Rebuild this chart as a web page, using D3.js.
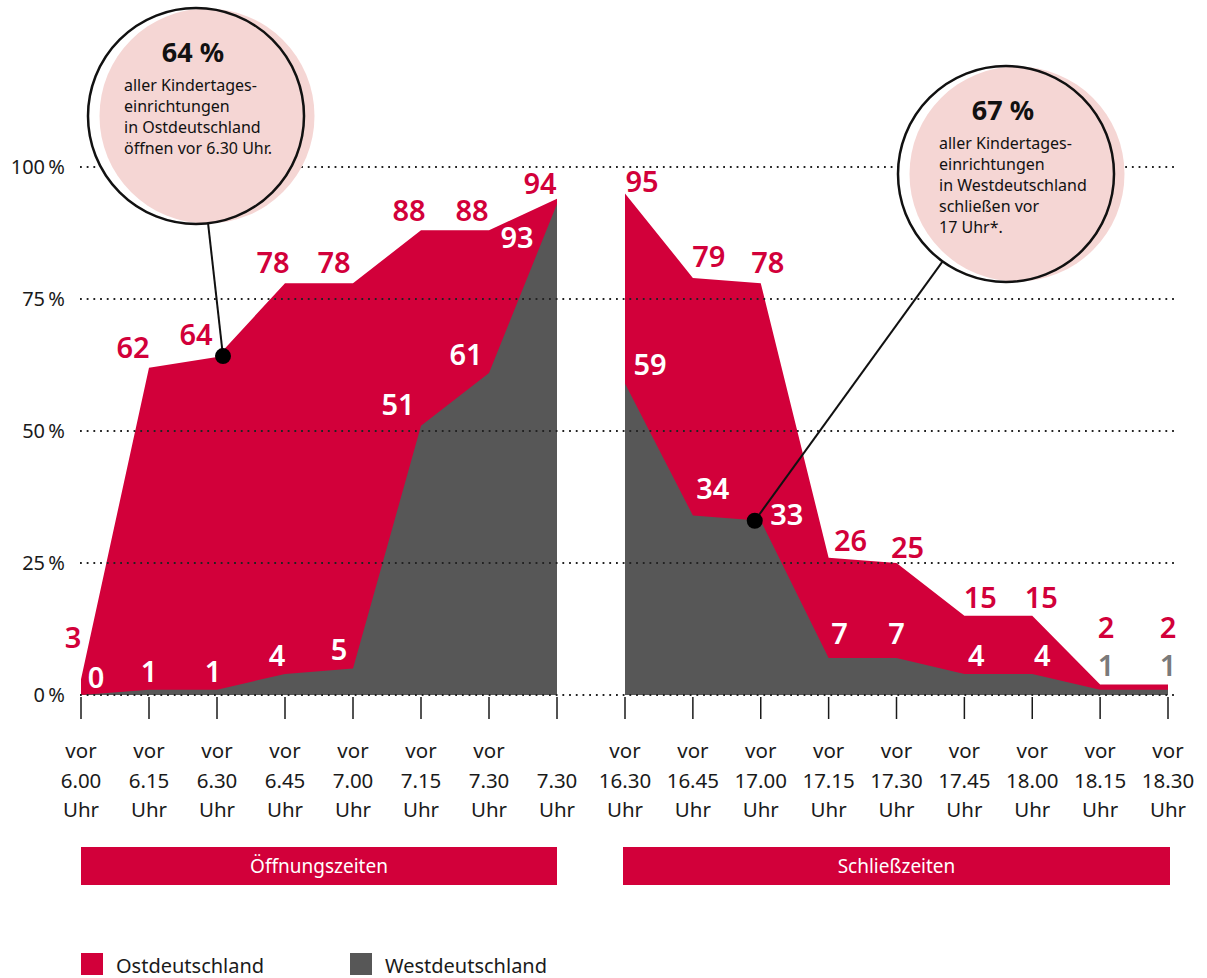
<!DOCTYPE html>
<html lang="de">
<head>
<meta charset="utf-8">
<title>Öffnungs- und Schließzeiten von Kindertageseinrichtungen</title>
<script src="https://cdn.jsdelivr.net/npm/d3@7"></script>
<style>
  body { margin: 0; background: #fff; }
  svg { display: block; font-family: "Noto Sans", sans-serif; }
</style>
</head>
<body>
<div id="chart"></div>
<script>
// --- data -----------------------------------------------------------------
let openCategories = [
    ["vor", "6.00", "Uhr"], ["vor", "6.15", "Uhr"], ["vor", "6.30", "Uhr"], ["vor", "6.45", "Uhr"],
    ["vor", "7.00", "Uhr"], ["vor", "7.15", "Uhr"], ["vor", "7.30", "Uhr"], ["", "7.30", "Uhr"]
];
let openOst = [3, 62, 64, 78, 78, 88, 88, 94];
let openWest = [0, 1, 1, 4, 5, 51, 61, 93];

let closeCategories = [
    ["vor", "16.30", "Uhr"], ["vor", "16.45", "Uhr"], ["vor", "17.00", "Uhr"], ["vor", "17.15", "Uhr"],
    ["vor", "17.30", "Uhr"], ["vor", "17.45", "Uhr"], ["vor", "18.00", "Uhr"], ["vor", "18.15", "Uhr"],
    ["vor", "18.30", "Uhr"]
];
let closeOst = [95, 79, 78, 26, 25, 15, 15, 2, 2];
let closeWest = [59, 34, 33, 7, 7, 4, 4, 1, 1];

let yTicks = [0, 25, 50, 75, 100];
let panelTitles = ["Öffnungszeiten", "Schließzeiten"];
let legendNames = ["Ostdeutschland", "Westdeutschland"];

let openNote = ["64 %", "aller Kindertages-", "einrichtungen", "in Ostdeutschland", "öffnen vor 6.30 Uhr."];
let closeNote = ["67 %", "aller Kindertages-", "einrichtungen", "in Westdeutschland", "schließen vor", "17 Uhr*."];

// hand placed nudges for the value labels [dx, dy] relative to the data point
let openOstNudge = [[-8, -31], [-16, -10], [-21, -12], [-12, -10], [-19, -10], [-12, -9], [-17, -9], [-17, -5]];
let openWestNudge = [[15, -7], [0, -8], [-4, -8], [-8, -8], [-14, -9], [-23, -11], [-23, -8], [-40, 44]];
let closeOstNudge = [[17, -1], [16, -11], [7, -10], [22, -7], [11, -5], [16, -8], [9, -8], [6, -46], [0, -46]];
let closeWestNudge = [[25, -8], [20, -16], [26, 4], [11, -14], [0, -14], [12, -8], [10, -8], [6, -14], [0, -14]];

// --- chart ----------------------------------------------------------------
let width = 1207,
    height = 978;

let red = "#d2003a",
    grey = "#575757",
    pink = "#f5d6d4";

let svg = d3.select("#chart").append("svg")
    .attr("width", width)
    .attr("height", height);

let y = d3.scaleLinear().domain([0, 100]).range([695, 167]);

let xOpen = d3.scalePoint().domain(d3.range(openOst.length)).range([81, 557]);
let xClose = d3.scalePoint().domain(d3.range(closeOst.length)).range([625, 1168]);

let panels = [
    {x: xOpen, cats: openCategories, ost: openOst, west: openWest, ostNudge: openOstNudge, westNudge: openWestNudge, lightWest: []},
    {x: xClose, cats: closeCategories, ost: closeOst, west: closeWest, ostNudge: closeOstNudge, westNudge: closeWestNudge, lightWest: [7, 8]}
];

// areas
panels.forEach(function (p) {
    let area = d3.area()
        .x(function (d, i) { return p.x(i); })
        .y0(y(0))
        .y1(function (d) { return y(d); });

    svg.append("path").attr("d", area(p.ost)).attr("fill", red);
    svg.append("path").attr("d", area(p.west)).attr("fill", grey);
});

// dotted grid
svg.append("g")
    .selectAll("line")
    .data(yTicks)
    .enter().append("line")
    .attr("x1", 80)
    .attr("x2", 1175)
    .attr("y1", function (d) { return y(d); })
    .attr("y2", function (d) { return y(d); })
    .attr("stroke", "#222")
    .attr("stroke-width", 2)
    .attr("stroke-dasharray", "1.8 4.9");

svg.append("g")
    .selectAll("text")
    .data(yTicks)
    .enter().append("text")
    .attr("x", 65)
    .attr("y", function (d) { return y(d); })
    .attr("dy", "0.36em")
    .attr("text-anchor", "end")
    .attr("font-size", 20)
    .attr("fill", "#1a1a1a")
    .text(function (d) { return d + "\u202f%"; });

// x axes: tick marks and three line labels
panels.forEach(function (p) {
    let axis = svg.append("g");

    axis.selectAll("line")
        .data(p.cats)
        .enter().append("line")
        .attr("x1", function (d, i) { return p.x(i); })
        .attr("x2", function (d, i) { return p.x(i); })
        .attr("y1", 697)
        .attr("y2", 719)
        .attr("stroke", "#1a1a1a")
        .attr("stroke-width", 1.5);

    let label = axis.selectAll("text")
        .data(p.cats)
        .enter().append("text")
        .attr("text-anchor", "middle")
        .attr("font-size", 20.5)
        .attr("fill", "#1a1a1a");

    [0, 1, 2].forEach(function (k) {
        label.append("tspan")
            .attr("x", function (d, i) { return p.x(i); })
            .attr("y", 758 + k * 29.5)
            .text(function (d) { return d[k]; });
    });
});

// value labels
panels.forEach(function (p) {
    svg.append("g")
        .selectAll("text")
        .data(p.ost)
        .enter().append("text")
        .attr("x", function (d, i) { return p.x(i) + p.ostNudge[i][0]; })
        .attr("y", function (d, i) { return y(d) + p.ostNudge[i][1]; })
        .attr("text-anchor", "middle")
        .attr("font-size", 29)
        .attr("font-weight", 600)
        .attr("fill", red)
        .text(function (d) { return d; });

    svg.append("g")
        .selectAll("text")
        .data(p.west)
        .enter().append("text")
        .attr("x", function (d, i) { return p.x(i) + p.westNudge[i][0]; })
        .attr("y", function (d, i) { return y(d) + p.westNudge[i][1]; })
        .attr("text-anchor", "middle")
        .attr("font-size", 29)
        .attr("font-weight", 600)
        .attr("fill", function (d, i) { return p.lightWest.indexOf(i) >= 0 ? "#7a7a7a" : "#fff"; })
        .text(function (d) { return d; });
});

// callout bubbles
function callout(lines, cx, cy, dot, textX, headX, firstBaseline) {
    let g = svg.append("g");
    let r = 108;

    g.append("circle").attr("cx", cx).attr("cy", cy).attr("r", r).attr("fill", "#fff");
    g.append("circle").attr("cx", cx + 11).attr("cy", cy).attr("r", 107.5).attr("fill", pink);
    g.append("circle").attr("cx", cx).attr("cy", cy).attr("r", r)
        .attr("fill", "none").attr("stroke", "#111").attr("stroke-width", 2.5);

    let angle = Math.atan2(cy - dot[1], cx - dot[0]);
    let dist = Math.hypot(cx - dot[0], cy - dot[1]) - r;
    g.append("line")
        .attr("x1", dot[0]).attr("y1", dot[1])
        .attr("x2", dot[0] + Math.cos(angle) * dist)
        .attr("y2", dot[1] + Math.sin(angle) * dist)
        .attr("stroke", "#111").attr("stroke-width", 2);
    g.append("circle").attr("cx", dot[0]).attr("cy", dot[1]).attr("r", 8).attr("fill", "#000");

    g.append("text")
        .attr("x", headX).attr("y", firstBaseline)
        .attr("text-anchor", "middle")
        .attr("font-size", 27)
        .attr("font-weight", 700)
        .attr("fill", "#111")
        .text(lines[0]);

    g.selectAll(".body")
        .data(lines.slice(1))
        .enter().append("text")
        .attr("class", "body")
        .attr("x", textX)
        .attr("y", function (d, i) { return firstBaseline + 29 + i * 21; })
        .attr("font-size", 16)
        .attr("fill", "#111")
        .text(function (d) { return d; });
}

callout(openNote, 196, 116, [xOpen(2) + 6, y(openOst[2]) - 1], 124, 193, 62);
callout(closeNote, 1006, 174, [xClose(2) - 6, y(closeWest[2])], 939, 1003, 120);

// panel title bars
let bars = [[81, 557], [623, 1170]];
bars.forEach(function (b, i) {
    svg.append("rect")
        .attr("x", b[0]).attr("y", 847)
        .attr("width", b[1] - b[0]).attr("height", 38)
        .attr("fill", red);
    svg.append("text")
        .attr("x", (b[0] + b[1]) / 2).attr("y", 866)
        .attr("dy", "0.36em")
        .attr("text-anchor", "middle")
        .attr("font-size", 19)
        .attr("fill", "#fff")
        .text(panelTitles[i]);
});

// legend
let legend = svg.append("g")
    .selectAll("g")
    .data(legendNames)
    .enter().append("g")
    .attr("transform", function (d, i) { return "translate(" + (81 + i * 269) + ",953)"; });

legend.append("rect")
    .attr("width", 22).attr("height", 22)
    .attr("fill", function (d, i) { return i === 0 ? red : grey; });

legend.append("text")
    .attr("x", 35).attr("y", 20)
    .attr("font-size", 20)
    .attr("fill", "#1a1a1a")
    .text(function (d) { return d; });
</script>
</body>
</html>
